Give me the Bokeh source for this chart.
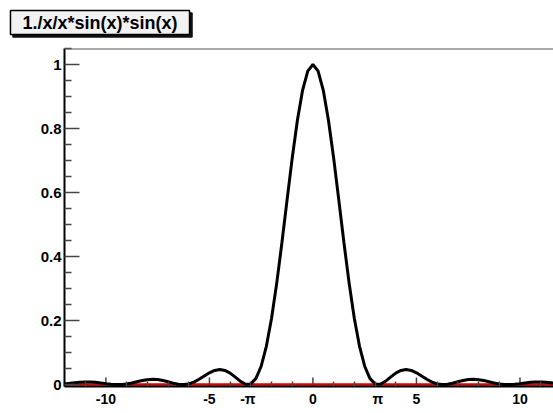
from bokeh.plotting import figure
from bokeh.models import Range1d, FixedTicker, Label, Span
from bokeh.embed import file_html
from bokeh.resources import INLINE

# ---------------- data ----------------
title_text = "1./x/x*sin(x)*sin(x)"

curve_x = [
    -12.0, -11.75, -11.5, -11.25, -11.0, -10.75, -10.5, -10.25, -10.0, -9.75,
    -9.5, -9.25, -9.0, -8.75, -8.5, -8.25, -8.0, -7.75, -7.5, -7.25,
    -7.0, -6.75, -6.5, -6.25, -6.0, -5.75, -5.5, -5.25, -5.0, -4.75,
    -4.5, -4.25, -4.0, -3.75, -3.5, -3.25, -3.0, -2.75, -2.5, -2.25,
    -2.0, -1.75, -1.5, -1.25, -1.0, -0.75, -0.5, -0.25, 0.0,
    0.25, 0.5, 0.75, 1.0, 1.25, 1.5, 1.75, 2.0, 2.25, 2.5,
    2.75, 3.0, 3.25, 3.5, 3.75, 4.0, 4.25, 4.5, 4.75, 5.0,
    5.25, 5.5, 5.75, 6.0, 6.25, 6.5, 6.75, 7.0, 7.25, 7.5,
    7.75, 8.0, 8.25, 8.5, 8.75, 9.0, 9.25, 9.5, 9.75, 10.0,
    10.25, 10.5, 10.75, 11.0, 11.25, 11.5, 11.75, 12.0,
]
curve_y = [
    0.0020, 0.0038, 0.0058, 0.0074, 0.0083, 0.0081, 0.0070, 0.0052, 0.0030, 0.0011,
    0.0001, 0.0004, 0.0021, 0.0051, 0.0088, 0.0125, 0.0153, 0.0165, 0.0156, 0.0129,
    0.0088, 0.0044, 0.0011, 0.0000, 0.0022, 0.0078, 0.0165, 0.0268, 0.0368, 0.0443,
    0.0472, 0.0443, 0.0358, 0.0232, 0.0100, 0.0011, 0.0022, 0.0193, 0.0573, 0.1196,
    0.2067, 0.3162, 0.4422, 0.5764, 0.7081, 0.8260, 0.9194, 0.9793, 1.0000,
    0.9793, 0.9194, 0.8260, 0.7081, 0.5764, 0.4422, 0.3162, 0.2067, 0.1196, 0.0573,
    0.0193, 0.0022, 0.0011, 0.0100, 0.0232, 0.0358, 0.0443, 0.0472, 0.0443, 0.0368,
    0.0268, 0.0165, 0.0078, 0.0022, 0.0000, 0.0011, 0.0044, 0.0088, 0.0129, 0.0156,
    0.0165, 0.0153, 0.0125, 0.0088, 0.0051, 0.0021, 0.0004, 0.0001, 0.0011, 0.0030,
    0.0052, 0.0070, 0.0081, 0.0083, 0.0074, 0.0058, 0.0038, 0.0020,
]

zero_x = [-12.0, 12.0]
zero_y = [0.0, 0.0]

x_major = [-10, -5, 0, 5, 10]
x_minor = [-12, -11, -9, -8, -7, -6, -4, -3, -2, -1, 1, 2, 3, 4, 6, 7, 8, 9, 11, 12]
x_tick_labels = ["-10", "-5", "0", "5", "10"]

pi_positions = [-3.14159, 3.14159]
pi_labels = ["-\u03c0", "\u03c0"]

y_major = [0.0, 0.2, 0.4, 0.6, 0.8, 1.0]
y_minor = [0.05, 0.1, 0.15, 0.25, 0.3, 0.35, 0.45, 0.5, 0.55, 0.65, 0.7, 0.75,
           0.85, 0.9, 0.95, 1.05]
y_tick_labels = ["0", "0.2", "0.4", "0.6", "0.8", "1"]

# ---------------- layout ----------------
W, H = 553, 413
BL, BT, BB = 64, 48, 27
X0, X1 = -12.0, 11.62
Y0, Y1 = -0.006, 1.05
frame_w = W - BL
frame_h = H - BT - BB
px_x = frame_w / (X1 - X0)
px_y = frame_h / (Y1 - Y0)

def cx(px):  # canvas px -> data x
    return X0 + (px - BL) / px_x

def cy(py):  # canvas px (from top) -> data y
    return Y0 + (H - BB - py) / px_y

p = figure(width=W, height=H, output_backend="svg", toolbar_location=None,
           x_range=Range1d(X0, X1), y_range=Range1d(Y0, Y1),
           min_border_left=BL, min_border_right=0, min_border_top=BT,
           min_border_bottom=BB)
p.grid.visible = False
p.outline_line_color = None
p.background_fill_color = "white"
p.border_fill_color = "white"

# axes
FONT = "Liberation Sans"
tick_pos = sorted(x_major + pi_positions)
tick_lab = {float(v): t for v, t in zip(x_major, x_tick_labels)}
tick_lab.update({float(v): t for v, t in zip(pi_positions, pi_labels)})
p.xaxis.ticker = FixedTicker(ticks=tick_pos, minor_ticks=x_minor)
p.xaxis.major_label_overrides = tick_lab
p.xaxis.axis_line_color = "black"
p.xaxis.axis_line_width = 2
p.xaxis.major_tick_in = 0
p.xaxis.major_tick_out = 0
p.xaxis.minor_tick_in = 5
p.xaxis.minor_tick_out = 0
p.xaxis.minor_tick_line_color = "#444444"
p.xaxis.minor_tick_line_width = 1.5
p.xaxis.major_label_text_font = FONT
p.xaxis.major_label_text_font_style = "bold"
p.xaxis.major_label_text_font_size = "14px"
p.xaxis.major_label_text_color = "black"
p.xaxis.major_label_standoff = 4

p.yaxis.ticker = FixedTicker(ticks=y_major, minor_ticks=y_minor)
p.yaxis.major_label_overrides = {v: t for v, t in zip(y_major, y_tick_labels)}
p.yaxis.axis_line_color = "black"
p.yaxis.axis_line_width = 2
p.yaxis.major_tick_in = 15
p.yaxis.major_tick_out = 0
p.yaxis.minor_tick_in = 7
p.yaxis.minor_tick_out = 0
p.yaxis.major_tick_line_color = "#444444"
p.yaxis.minor_tick_line_color = "#444444"
p.yaxis.major_tick_line_width = 1.5
p.yaxis.minor_tick_line_width = 1.5
p.yaxis.major_label_text_font = FONT
p.yaxis.major_label_text_font_style = "bold"
p.yaxis.major_label_text_font_size = "15px"
p.yaxis.major_label_text_color = "black"
p.yaxis.major_label_standoff = 3

# top frame line
p.add_layout(Span(location=Y1, dimension="width", line_color="#555555",
                  line_width=2))

# tall x major ticks (only at the numbered positions, not at pi)
p.segment(x0=x_major, y0=[Y0] * len(x_major), x1=x_major,
          y1=[Y0 + 9 / px_y] * len(x_major), line_color="#444444", line_width=1.5)

# curves
p.line(zero_x, zero_y, line_color="#dd0000", line_width=2.5)
p.line(curve_x, curve_y, line_color="black", line_width=3)

# title box with shadow (placed in the top border panel, so not clipped)
shadow = Label(x=cx(102), y=cy(24.5), text=title_text, text_align="center",
               text_baseline="middle", text_font=FONT, text_font_style="bold",
               text_font_size="18px", text_color="#111111", padding=(12, 2),
               background_fill_color="#111111", border_line_color="#111111",
               border_line_width=1.5)
box = Label(x=cx(99.5), y=cy(22), text=title_text, text_align="center",
            text_baseline="middle", text_font=FONT, text_font_style="bold",
            text_font_size="18px", text_color="black", padding=(12, 2),
            background_fill_color="#f2f2f2", border_line_color="black",
            border_line_width=1.5)
p.add_layout(shadow, "above")
p.add_layout(box, "above")

open("out.html", "w").write(file_html(p, INLINE))
